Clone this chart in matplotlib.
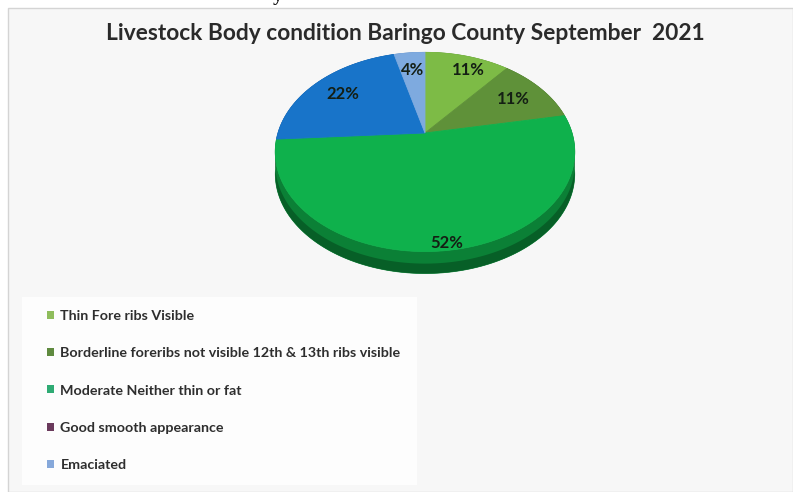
import numpy as np
import matplotlib
matplotlib.use("Agg")
import matplotlib.pyplot as plt
from matplotlib.patches import Polygon, Rectangle, Patch

# ---- data ----
title = "Livestock Body condition Baringo County September  2021"
categories = [
    "Thin Fore ribs Visible",
    "Borderline foreribs not visible 12th & 13th ribs visible",
    "Moderate Neither thin or fat",
    "Good smooth appearance",
    "Emaciated",
]
slice_values = [11, 11, 52, 22, 4]          # percent, clockwise from 12 o'clock
slice_labels = [f"{v}%" for v in slice_values]

# ---- styles ----
slice_colors = ["#7dbb46", "#5f9139", "#0fb14c", "#1874c9", "#7eaadf"]
side_colors = ["#4f8a2a", "#3d6824", "#0b8036", "#0f4f8f", "#4f7db5"]
legend_colors = ["#8fbd5c", "#5f8a3f", "#2fab74", "#6a3a5c", "#86a8da"]

W, H = 793, 492
fig = plt.figure(figsize=(W / 100, H / 100), dpi=100, facecolor="white")
ax = fig.add_axes([0, 0, 1, 1])
ax.set_xlim(0, W)
ax.set_ylim(H, 0)
ax.axis("off")

# chart area panel
ax.add_patch(Rectangle((8, 8), W - 8, H - 8, facecolor="#f7f7f7",
                       edgecolor="#d4d4d4", linewidth=1.0, zorder=0))
# legend panel
ax.add_patch(Rectangle((22, 297), 395, 188, facecolor="#fdfdfd",
                       edgecolor="none", zorder=1))

# fragment of text above the chart
ax.text(278, 1, "y", family="Liberation Serif", fontweight="bold",
        fontsize=14, color="#111111", ha="center", va="baseline", zorder=2)

# title
ax.text(405, 33, title, family="Lato", fontweight="bold", fontsize=16.4,
        color="#2a2a2a", ha="center", va="center", zorder=5)

# ---- perspective pie ----
cx, cy = 425, 133
a, b, k = 147, 96, 0.19
depth = 22


def project(theta, r=1.0):
    u = r * np.sin(theta)
    v = r * np.cos(theta)
    d = 1 + k * v
    return cx + a * u / d, cy - b * v / d


fracs = np.array(slice_values, dtype=float) / np.sum(slice_values)
bounds = np.concatenate([[0], np.cumsum(fracs)]) * 2 * np.pi

# side walls, drawn back to front
order = np.argsort([np.cos((bounds[i] + bounds[i + 1]) / 2) for i in range(len(fracs))])[::-1]
for i in order:
    t = np.linspace(bounds[i], bounds[i + 1], 200)
    x, y = project(t)
    xs = np.concatenate([x, x[::-1]])
    ys = np.concatenate([y, (y + depth)[::-1]])
    ax.add_patch(Polygon(np.column_stack([xs, ys]), closed=True,
                         facecolor=side_colors[i], edgecolor=side_colors[i],
                         linewidth=0.5, zorder=3))
    # darker lower band of the wall
    ys2 = np.concatenate([y + depth * 0.55, (y + depth)[::-1]])
    ax.add_patch(Polygon(np.column_stack([xs, ys2]), closed=True,
                         facecolor="#075f27" if i == 2 else side_colors[i],
                         edgecolor="none", zorder=3.1))

# top faces
for i in range(len(fracs)):
    t = np.linspace(bounds[i], bounds[i + 1], 200)
    x, y = project(t)
    xs = np.concatenate([[cx], x])
    ys = np.concatenate([[cy], y])
    ax.add_patch(Polygon(np.column_stack([xs, ys]), closed=True,
                         facecolor=slice_colors[i], edgecolor=slice_colors[i],
                         linewidth=0.6, zorder=4))

# value labels
label_r = [0.8, 0.75, 0.95, 0.75, 0.75]
label_shift = [8, 0, 0, 0, 0]
for i, lab in enumerate(slice_labels):
    mid = (bounds[i] + bounds[i + 1]) / 2
    lx, ly = project(mid, label_r[i])
    ax.text(lx + label_shift[i], ly, lab, family="Lato", fontweight="bold",
            fontsize=12, color="#141f14", ha="center", va="center", zorder=6)

# ---- legend ----
handles = [Patch(facecolor=c, edgecolor="none") for c in legend_colors]
leg = ax.legend(handles, categories, loc="upper left",
                bbox_to_anchor=(40 / W, 1 - 303 / H), bbox_transform=fig.transFigure,
                frameon=False, prop={"family": "Lato", "weight": "bold", "size": 10.3},
                labelcolor="#2e2e2e", handlelength=0.48, handleheight=0.48,
                handletextpad=0.45, labelspacing=1.76, borderpad=0)
leg.set_zorder(6)

fig.savefig("out.png", dpi=100, facecolor="white")
